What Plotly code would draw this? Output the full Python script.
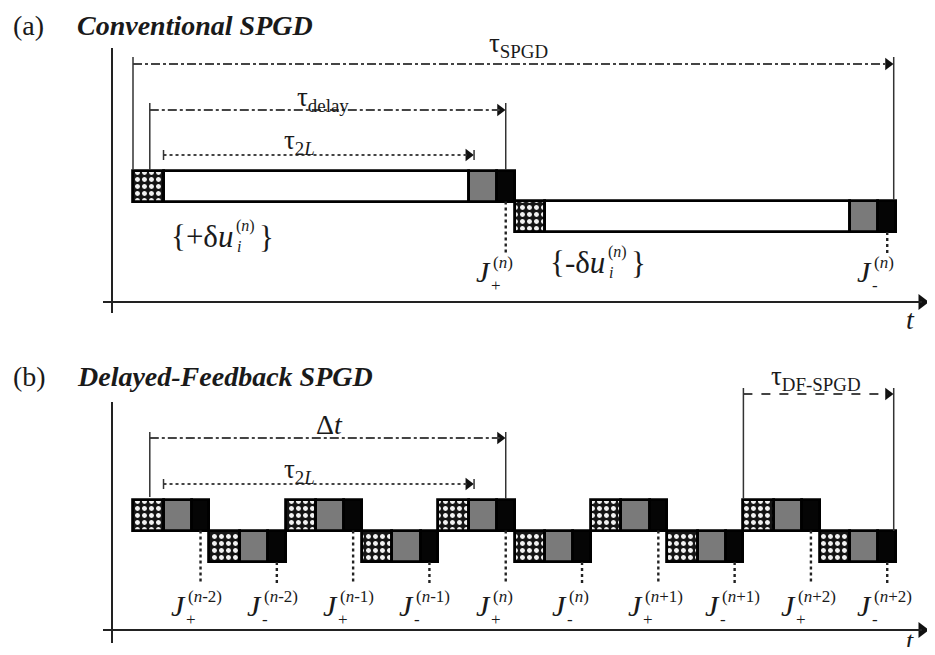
import plotly.graph_objects as go

# ---------------- data (time in units of one DF-SPGD step) ----------------
pert_len = 0.40        # perturbation application (checkered)
meas_len = 0.37        # measurement (grey)
comp_len = 0.23        # computation (black)

a_block_len = 5.0
a_block_start = [0.0, 5.0]
a_block_row = ["up", "down"]

b_block_len = 1.0
b_block_start = [0, 1, 2, 3, 4, 5, 6, 7, 8, 9]
b_block_row = ["up", "down", "up", "down", "up", "down", "up", "down", "up", "down"]

a_label_sign = ["+", "-"]
a_label_iter = ["n", "n"]
b_label_sign = ["+", "-", "+", "-", "+", "-", "+", "-", "+", "-"]
b_label_iter = ["n-2", "n-2", "n-1", "n-1", "n", "n", "n+1", "n+1", "n+2", "n+2"]

tau_spgd = [0.0, 10.0]
tau_delay = [0.22, 4.885]
tau_2l = [0.40, 4.40]
delta_t = [0.22, 4.885]
tau_df = [8.0, 10.0]

# ---------------- layout helpers ----------------
OFF = 8                      # page body margin of the browser
W, H = 935 - 2 * OFF, 655 - 2 * OFF
X0PX, UNIT = 133.0, 76.3     # pixel of t=0 and pixels per time unit (page coordinates)
def t_of(px):
    return (px - X0PX) / UNIT

ROW_Y = {"a": {"up": 186, "down": 216.5}, "b": {"up": 515, "down": 546.5}}
ROW_H = 31
SERIF = "Liberation Serif, Times New Roman, serif"
INK = "#1a1a1a"

fig = go.Figure()

# ---------------- blocks as horizontal bars ----------------
segs = {"pert": ([], [], []), "wait": ([], [], []), "meas": ([], [], []), "comp": ([], [], [])}
def add_block(start, length, y):
    wait_len = length - pert_len - meas_len - comp_len
    parts = [("pert", start, pert_len)]
    if wait_len > 1e-6:
        parts.append(("wait", start + pert_len, wait_len))
    parts.append(("meas", start + length - meas_len - comp_len, meas_len))
    parts.append(("comp", start + length - comp_len, comp_len))
    for k, b, l in parts:
        segs[k][0].append(b); segs[k][1].append(l); segs[k][2].append(y)

for s, r in zip(a_block_start, a_block_row):
    add_block(s, a_block_len, ROW_Y["a"][r])
for s, r in zip(b_block_start, b_block_row):
    add_block(s, b_block_len, ROW_Y["b"][r])

styles = {
    "pert": dict(color="#111111", pattern=dict(shape=".", fgcolor="#f2f2f2", bgcolor="#151515",
                                                 size=7, solidity=0.4, fillmode="replace")),
    "wait": dict(color="white"),
    "meas": dict(color="#7a7a7a"),
    "comp": dict(color="#050505"),
}
for k, (bases, lens, ys) in segs.items():
    m = dict(styles[k])
    m["line"] = dict(color="black", width=2.8)
    fig.add_trace(go.Bar(orientation="h", base=bases, x=lens, y=ys, width=[ROW_H] * len(ys),
                         marker=m, hoverinfo="skip", showlegend=False))

# ---------------- line helpers ----------------
def vline(t, y0, y1, dash="solid", width=1.5, color="#333"):
    fig.add_shape(type="line", x0=t, x1=t, y0=y0, y1=y1,
                  line=dict(color=color, width=width, dash=dash), layer="above")

def harrow(t0, t1, y, dash, width=1.8, color="#444"):
    fig.add_shape(type="line", x0=t0, x1=t1 - 0.08, y0=y, y1=y,
                  line=dict(color=color, width=width, dash=dash), layer="above")
    fig.add_trace(go.Scatter(x=[t1 - 0.075], y=[y], mode="markers", hoverinfo="skip",
                             marker=dict(symbol="triangle-right", size=11, color="#111"),
                             showlegend=False))

def text(t, y, s, size=24, xanchor="center", xshift=0, yanchor="middle"):
    fig.add_annotation(x=t, y=y, text=s, showarrow=False, xanchor=xanchor, yanchor=yanchor,
                       xshift=xshift, font=dict(family=SERIF, size=size, color=INK))

# ---------------- axes (drawn) ----------------
for (yv0, yv1, yh) in [(48, 313, 302), (402, 643, 630)]:
    vline(t_of(112), yv0, yv1, width=2, color="#222")
    fig.add_shape(type="line", x0=t_of(103), x1=t_of(922), y0=yh, y1=yh,
                  line=dict(color="#222", width=2), layer="above")
    fig.add_trace(go.Scatter(x=[t_of(922)], y=[yh], mode="markers", hoverinfo="skip",
                             marker=dict(symbol="triangle-right", size=14, color="#111"),
                             showlegend=False))
text(t_of(910), 319, "<i>t</i>", size=28)
text(t_of(910), 640, "<i>t</i>", size=26)

# ---------------- titles ----------------
text(t_of(11), 25, "(a)", size=28, xanchor="left")
text(t_of(75), 25, "<b><i>Conventional SPGD</i></b>", size=28, xanchor="left")
text(t_of(11), 376, "(b)", size=28, xanchor="left")
text(t_of(75), 376, "<b><i>Delayed-Feedback SPGD</i></b>", size=28, xanchor="left")

# ---------------- panel (a) intervals ----------------
harrow(tau_spgd[0], tau_spgd[1] - 0.03, 64, "dashdot")
vline(tau_spgd[0], 57, 170)
vline(tau_spgd[1] - 0.03, 57, 200)
text(t_of(518), 45, "τ<sub>SPGD</sub>", size=27)

harrow(tau_delay[0], tau_delay[1], 110, "dashdot")
vline(tau_delay[0], 103, 170)
vline(tau_delay[1], 103, 170)
text(t_of(323), 99, "τ<sub>delay</sub>", size=27)

harrow(tau_2l[0], tau_2l[1] + 0.07, 155, "dot", width=2)
vline(tau_2l[0], 150, 160)
vline(tau_2l[1] + 0.07, 150, 160)
text(t_of(299), 142, "τ<sub>2<i>L</i></sub>", size=27)

# ---------------- panel (b) intervals ----------------
harrow(delta_t[0], delta_t[1], 438, "dashdot")
vline(delta_t[0], 432, 497)
vline(delta_t[1], 432, 499)
text(t_of(329), 424, "Δ<i>t</i>", size=28)

harrow(tau_2l[0], tau_2l[1] + 0.07, 484, "dot", width=2)
vline(tau_2l[0], 479, 489)
vline(tau_2l[1] + 0.07, 479, 489)
text(t_of(299), 471, "τ<sub>2<i>L</i></sub>", size=27)

harrow(tau_df[0], tau_df[1] - 0.03, 394, "dash")
vline(tau_df[0], 388, 499)
vline(tau_df[1] - 0.03, 388, 531)
text(t_of(816), 378, "τ<sub>DF-SPGD</sub>", size=27)

# ---------------- J labels ----------------
def jlabel(t, y0, y1, ycen, sign, it):
    vline(t, y0, y1, dash="dot", width=2.4, color="#222")
    sup = "(" + it.replace("n", "<i>n</i>") + ")"
    text(t, ycen + 1, "<i>J</i>", size=30, xanchor="right", xshift=-13)
    text(t, ycen - 8, sup, size=17, xanchor="left", xshift=-15)
    text(t, ycen + 15, sign, size=17, xanchor="left", xshift=-17)

a_meas_t = [s + a_block_len - comp_len / 2 for s in a_block_start]
for t, r, sg, it in zip(a_meas_t, a_block_row, a_label_sign, a_label_iter):
    ytop = ROW_Y["a"][r] + ROW_H / 2
    jlabel(t, ytop, 253, 270, sg, it)

b_meas_t = [s + b_block_len - comp_len / 2 for s in b_block_start]
for t, r, sg, it in zip(b_meas_t, b_block_row, b_label_sign, b_label_iter):
    ytop = ROW_Y["b"][r] + ROW_H / 2
    jlabel(t, ytop, 583, 604, sg, it)

# ---------------- {±δu} labels ----------------
def du_label(px_u_end, y, sign):
    t = t_of(px_u_end)
    text(t, y, "{" + sign + "δ<i>u</i>", size=31, xanchor="right")
    text(t, y - 10, "(<i>n</i>)", size=16, xanchor="left", xshift=-1)
    text(t, y + 10, "<i>i</i>", size=16, xanchor="left", xshift=0)
    text(t, y + 1, "}", size=31, xanchor="left", xshift=22)

du_label(235, 236, "+")
du_label(607, 262, "-")

fig.update_layout(
    width=W, height=H, margin=dict(l=0, r=0, t=0, b=0),
    paper_bgcolor="white", plot_bgcolor="white", barmode="overlay", bargap=0,
    showlegend=False,
    xaxis=dict(range=[t_of(OFF), t_of(OFF + W)], visible=False, fixedrange=True),
    yaxis=dict(range=[OFF + H, OFF], visible=False, fixedrange=True),
)
fig.write_html("out.html")
